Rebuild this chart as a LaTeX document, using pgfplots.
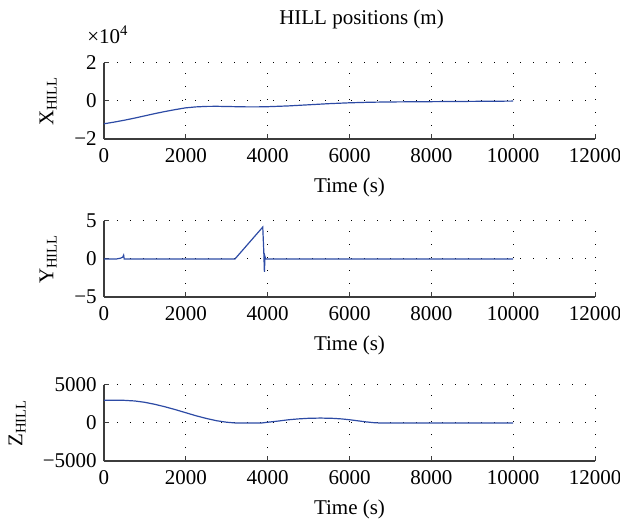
\documentclass[border=0pt]{standalone}
\usepackage{fontspec}
\setmainfont{Liberation Serif}
\usepackage{pgfplots}
\pgfplotsset{compat=1.18}
\definecolor{lineblue}{RGB}{45,75,165}
\definecolor{axgray}{RGB}{60,60,60}
\newcommand{\fs}{\fontsize{10.5}{12}\selectfont}
\pgfplotsset{
  hill/.style={
    width=245.5pt, height=38pt, scale only axis,
    xmin=0, xmax=12000,
    xtick={0,2000,4000,6000,8000,10000,12000},
    xticklabels={0,2000,4000,6000,8000,10000,12000},
    scaled x ticks=false, scaled y ticks=false,
    axis lines=left,
    axis line style={-, axgray, line width=0.6pt},
    tick style={axgray, line width=0.5pt},
    major tick length=2.5pt,
    tick align=inside,
    grid=major,
    major grid style={black, line width=0.5pt, dash pattern=on 0.5pt off 6pt},
    xlabel={Time (s)},
    tick label style={font=\fs},
    x tick label style={yshift=-1pt},
    every axis x label/.style={at={(axis description cs:0.5,0)}, yshift=-24pt, anchor=center, font=\fs},
    clip=false,
  }
}
\begin{document}
\fs
\begin{tikzpicture}
\useasboundingbox (-52pt,-31.5pt) rectangle (258pt,230.5pt);
% X
\begin{axis}[hill, at={(0,161pt)}, anchor=south west,
  ymin=-2, ymax=2, ytick={-2,0,2}, yticklabels={−2,0,2},
  ylabel={X\textsubscript{HILL}},
  every axis y label/.style={at={(axis description cs:-0.114,0.5)}, rotate=90, anchor=center, font=\fs},
  title={HILL positions (m)},
  every axis title/.style={at={(axis description cs:0.5,1)}, yshift=22pt, xshift=6pt, anchor=center, font=\fs}]
\addplot[lineblue, line width=0.6pt] coordinates {
(0,-1.2) (250,-1.11) (500,-1.01) (750,-0.9) (1000,-0.78) (1250,-0.66) (1500,-0.55)
(1750,-0.45) (2000,-0.36) (2250,-0.31) (2500,-0.285) (2750,-0.28) (3000,-0.29)
(3250,-0.30) (3500,-0.31) (3750,-0.31) (4000,-0.30) (4500,-0.26) (5000,-0.2)
(5500,-0.14) (6000,-0.095) (6500,-0.065) (7000,-0.05) (8000,-0.035) (9000,-0.02) (10000,-0.005)
};
\node[anchor=west, inner sep=0pt, xshift=-8.5pt, yshift=14pt] at (rel axis cs:0,1) {×10\textsuperscript{4}};
\end{axis}
% Y
\begin{axis}[hill, at={(0,82pt)}, anchor=south west,
  ymin=-5, ymax=5, ytick={-5,0,5}, yticklabels={−5,0,5},
  ylabel={Y\textsubscript{HILL}},
  every axis y label/.style={at={(axis description cs:-0.114,0.5)}, rotate=90, anchor=center, font=\fs}]
\addplot[lineblue, line width=0.6pt] coordinates {
(0,0) (300,0) (400,0.1) (460,0.25) (480,0.5) (495,0) (3200,0) (3880,4.2) (3905,1.0)
(3920,-1.7) (3935,0.3) (3950,0) (10000,0)
};
\end{axis}
% Z
\begin{axis}[hill, at={(0,0)}, anchor=south west,
  ymin=-5000, ymax=5000, ytick={-5000,0,5000}, yticklabels={−5000,0,5000},
  ylabel={Z\textsubscript{HILL}},
  every axis y label/.style={at={(axis description cs:-0.177,0.5)}, rotate=90, anchor=center, font=\fs}]
\addplot[lineblue, line width=0.6pt] coordinates {
(0,3000) (500,2980) (750,2900) (1000,2720) (1250,2450) (1500,2120) (1750,1750)
(2000,1350) (2250,950) (2500,600) (2750,300) (3000,100) (3200,10) (3500,0) (3850,0)
(4000,100) (4250,250) (4500,420) (4750,540) (5000,620) (5300,650) (5600,610) (5800,540)
(6000,430) (6200,290) (6400,150) (6600,40) (6750,0) (10000,0)
};
\end{axis}
\end{tikzpicture}
\end{document}
